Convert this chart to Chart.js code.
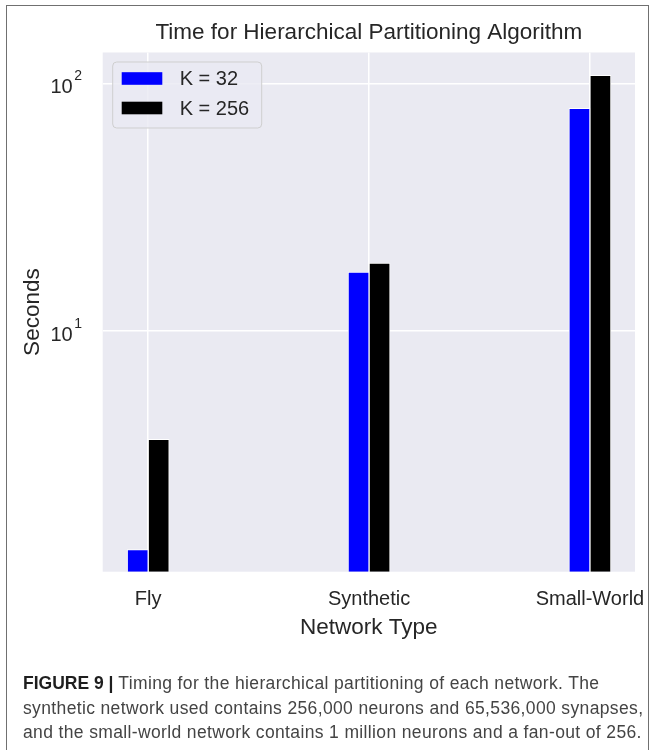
<!DOCTYPE html>
<html>
<head>
<meta charset="utf-8">
<script src="https://cdn.jsdelivr.net/npm/chart.js@4"></script>
<style>
  body { margin: 0; background: #fff; }
  #wrap { position: relative; width: 655px; height: 750px; overflow: hidden; }
  #frame { position: absolute; left: 6px; top: 5px; width: 641px; height: 800px; border: 1.5px solid #707070; }
  canvas { position: absolute; left: 0; top: 0; }
  .cap { position: absolute; left: 23px; top: 671px; font-family: "Liberation Sans", Arial, sans-serif;
         font-size: 17.5px; letter-spacing: 0.36px; line-height: 24.5px; color: #444; white-space: nowrap; }
  .cap b { color: #1e1e1e; letter-spacing: 0; }
</style>
</head>
<body>
<div id="wrap">
  <div id="frame"></div>
  <canvas id="timing" width="655" height="750"></canvas>
  <div class="cap"><b>FIGURE 9 |</b> Timing for the hierarchical partitioning of each network. The<br>synthetic network used contains 256,000 neurons and 65,536,000 synapses,<br>and the small-world network contains 1 million neurons and a fan-out of 256.</div>
</div>
<script>
const categories = ['Fly', 'Synthetic', 'Small-World'];
const seriesLabels = ['K = 32', 'K = 256'];
const k32 = [1.31, 17.3, 79.3];
const k256 = [3.65, 18.8, 108];
const yTicks = [10, 100];
const yTickLabels = ['10^1', '10^2'];

const FONT = '"Liberation Sans", Arial, sans-serif';
const ink = '#262626';
const panel = '#EAEAF2';

Chart.defaults.font.family = FONT;
Chart.defaults.color = ink;

// seaborn style grey panel behind the plot
const plotBg = {
  id: 'plotBg',
  beforeDraw(chart) {
    const { ctx, chartArea: a } = chart;
    ctx.save();
    ctx.fillStyle = panel;
    ctx.fillRect(a.left, a.top, a.right - a.left, a.bottom - a.top);
    ctx.restore();
  }
};

// y tick labels as base + raised exponent, like matplotlib's 10^n
const powerTicks = {
  id: 'powerTicks',
  afterDraw(chart) {
    const { ctx, chartArea: a } = chart;
    const yScale = chart.scales.y;
    ctx.save();
    ctx.fillStyle = ink;
    ctx.textBaseline = 'middle';
    yTicks.forEach((v, i) => {
      const [base, exp] = yTickLabels[i].split('^');
      const y = yScale.getPixelForValue(v);
      ctx.font = '20px ' + FONT;
      ctx.textAlign = 'right';
      ctx.fillText(base, a.left - 30, y + 4);
      ctx.font = '14px ' + FONT;
      ctx.textAlign = 'left';
      ctx.fillText(exp, a.left - 28.5, y - 7);
    });
    ctx.restore();
  }
};

// framed legend in the upper left corner of the plot
const boxLegend = {
  id: 'boxLegend',
  afterDatasetsDraw(chart) {
    const { ctx, chartArea: a } = chart;
    const x = a.left + 10, y = a.top + 9.5, w = 149, h = 66;
    ctx.save();
    ctx.beginPath();
    ctx.roundRect(x, y, w, h, 4);
    ctx.fillStyle = 'rgba(234,234,242,0.8)';
    ctx.fill();
    ctx.strokeStyle = '#cfcfcf';
    ctx.lineWidth = 1;
    ctx.stroke();
    ctx.font = '20px ' + FONT;
    ctx.textBaseline = 'middle';
    chart.data.datasets.forEach((ds, i) => {
      const cy = y + 16.5 + i * 29.5;
      ctx.fillStyle = ds.backgroundColor;
      ctx.fillRect(x + 9, cy - 6.3, 40.6, 12.6);
      ctx.fillStyle = ink;
      ctx.fillText(ds.label, x + 67, cy + 1);
    });
    ctx.restore();
  }
};

const toPoints = vals => categories.map((c, i) => ({ x: i, y: vals[i] }));

const data = {
  datasets: [
    { label: seriesLabels[0], data: toPoints(k32), backgroundColor: '#0000ff' },
    { label: seriesLabels[1], data: toPoints(k256), backgroundColor: '#000000' }
  ]
};

const config = {
  type: 'bar',
  data: data,
  options: {
    responsive: false,
    animation: false,
    layout: { padding: { left: 8, right: 20, top: 5, bottom: 95 } },
    datasets: {
      bar: { barThickness: 21, borderColor: '#ffffff', borderWidth: 1, grouped: true }
    },
    plugins: {
      legend: { display: false },
      tooltip: { enabled: false },
      title: {
        display: true,
        fullSize: false,
        text: 'Time for Hierarchical Partitioning Algorithm',
        color: ink,
        font: { size: 22.5, weight: 'normal' },
        padding: { top: 14.5, bottom: 6 }
      }
    },
    scales: {
      x: {
        type: 'linear',
        offset: false,
        min: -0.206,
        max: 2.204,
        afterBuildTicks: ax => { ax.ticks = categories.map((c, i) => ({ value: i })); },
        afterFit: ax => { ax.height = 83.3; ax.paddingLeft = 0; ax.paddingRight = 0; },
        ticks: {
          callback: v => categories[v] ?? '',
          font: { size: 20 },
          color: ink,
          padding: 16,
          maxRotation: 0,
          autoSkip: false
        },
        grid: { color: '#ffffff', lineWidth: 1.5, drawTicks: false, offset: false },
        border: { display: false },
        title: {
          display: true,
          text: 'Network Type',
          color: ink,
          font: { size: 22.5 },
          padding: { top: 0, bottom: 13.5 }
        }
      },
      y: {
        type: 'logarithmic',
        min: 1.067,
        max: 133.4,
        afterBuildTicks: ax => { ax.ticks = yTicks.map(v => ({ value: v })); },
        afterFit: ax => { ax.width = 94.7; ax.paddingTop = 0; ax.paddingBottom = 0; },
        ticks: { display: false },
        grid: { color: '#ffffff', lineWidth: 1.5, drawTicks: false },
        border: { display: false },
        title: {
          display: true,
          text: 'Seconds',
          color: ink,
          font: { size: 22.5 },
          padding: { top: 11, bottom: 0 }
        }
      }
    }
  },
  plugins: [plotBg, boxLegend, powerTicks]
};

new Chart(document.getElementById('timing'), config);
</script>
</body>
</html>
